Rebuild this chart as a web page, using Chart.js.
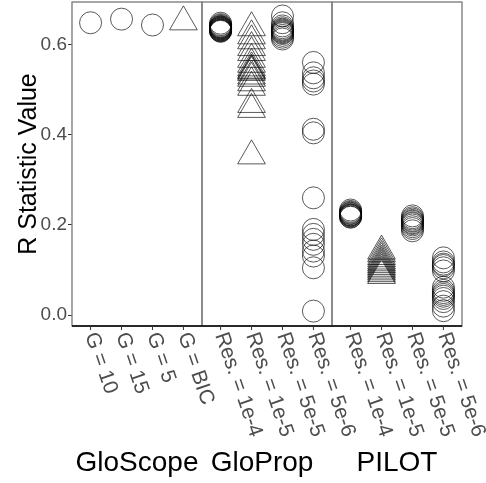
<!DOCTYPE html>
<html><head><meta charset="utf-8">
<script src="https://cdn.jsdelivr.net/npm/chart.js@4"></script>
<style>html,body{margin:0;padding:0;background:#fff}</style>
</head><body>
<canvas id="c" width="486" height="483"></canvas>
<script>
// Facet (method) names and the settings shown inside each facet
const methods = ["GloScope", "GloProp", "PILOT"];
const gloScopeSettings = ["G = 10", "G = 15", "G = 5", "G = BIC"];
const resolutionSettings = ["Res. = 1e-4", "Res. = 1e-5", "Res. = 5e-5", "Res. = 5e-6"];
const defaultSettings = ["G = BIC", "Res. = 1e-5"]; // drawn as triangles
const yTickValues = [0, 0.2, 0.4, 0.6];

// R statistic values per method / setting
const gloScopeG10 = [0.648];
const gloScopeG15 = [0.656];
const gloScopeG5 = [0.643];
const gloScopeBIC = [0.650];

const gloPropRes1e4 = [0.647, 0.644, 0.642, 0.640, 0.639, 0.638, 0.637, 0.636, 0.635, 0.634, 0.633, 0.632, 0.631, 0.630, 0.629];
const gloPropRes1e5 = [0.637, 0.619, 0.608, 0.593, 0.582, 0.567, 0.556, 0.548, 0.543, 0.541, 0.538, 0.530, 0.525, 0.515, 0.505, 0.467, 0.456, 0.353];
const gloPropRes5e5 = [0.663, 0.648, 0.641, 0.637, 0.634, 0.632, 0.630, 0.628, 0.626, 0.624, 0.620, 0.616, 0.612];
const gloPropRes5e6 = [0.560, 0.537, 0.526, 0.519, 0.512, 0.412, 0.404, 0.260, 0.190, 0.179, 0.168, 0.157, 0.142, 0.131, 0.105, 0.009];

const pilotRes1e4 = [0.233, 0.230, 0.228, 0.226, 0.225, 0.223, 0.222, 0.221, 0.220, 0.218, 0.217];
const pilotRes1e5 = [0.142, 0.136, 0.130, 0.125, 0.120, 0.116, 0.112, 0.108, 0.104, 0.100, 0.096, 0.092, 0.088];
const pilotRes5e5 = [0.220, 0.216, 0.213, 0.210, 0.208, 0.205, 0.203, 0.200, 0.196, 0.192, 0.187];
const pilotRes5e6 = [0.127, 0.118, 0.113, 0.110, 0.105, 0.098, 0.062, 0.055, 0.050, 0.046, 0.042, 0.037, 0.030, 0.020, 0.010];

const facetSettings = [gloScopeSettings, resolutionSettings, resolutionSettings];
const facetValues = [
  [gloScopeG10, gloScopeG15, gloScopeG5, gloScopeBIC],
  [gloPropRes1e4, gloPropRes1e5, gloPropRes5e5, gloPropRes5e6],
  [pilotRes1e4, pilotRes1e5, pilotRes5e5, pilotRes5e6]
];

// Each facet spans 4 discrete slots plus 0.6 slot of padding on both sides
const EXPAND = 0.6;
const PANEL = 3 + 2 * EXPAND;
const slotX = (p, i) => p * PANEL + EXPAND + i;

const FONT = '"Liberation Sans", Arial, Helvetica, sans-serif';
const INK = 'rgba(0,0,0,0.65)';

const datasets = [];
facetValues.forEach((group, p) => {
  group.forEach((vals, i) => {
    const tri = defaultSettings.includes(facetSettings[p][i]);
    datasets.push({
      label: methods[p] + ' ' + facetSettings[p][i],
      data: vals.map(v => ({ x: slotX(p, i), y: v })),
      pointStyle: tri ? 'triangle' : 'circle',
      pointRadius: tri ? 16 : 11,
      pointHoverRadius: tri ? 16 : 11,
      borderColor: INK,
      backgroundColor: 'rgba(0,0,0,0)',
      pointBorderWidth: 1,
      showLine: false
    });
  });
});

// small horizontal nudges for the method captions (in slots)
const captionShift = [0, -0.16, 0];

const facetPlugin = {
  id: 'facets',
  afterDatasetsDraw(chart) {
    const { ctx, chartArea: a, scales: { x } } = chart;
    ctx.save();
    // panel frames
    ctx.strokeStyle = '#808080';
    ctx.lineWidth = 1.4;
    for (let p = 0; p < methods.length; p++) {
      const l = x.getPixelForValue(p * PANEL), r = x.getPixelForValue((p + 1) * PANEL);
      ctx.strokeRect(l, a.top, r - l, a.bottom - a.top);
    }
    // x axis line
    ctx.strokeStyle = '#000';
    ctx.lineWidth = 1.5;
    ctx.beginPath();
    ctx.moveTo(a.left, a.bottom);
    ctx.lineTo(a.right, a.bottom);
    ctx.stroke();

    // x tick marks and rotated setting labels
    ctx.fillStyle = '#4d4d4d';
    ctx.strokeStyle = '#333';
    ctx.lineWidth = 1;
    ctx.font = '21px ' + FONT;
    ctx.textAlign = 'left';
    ctx.textBaseline = 'middle';
    facetSettings.forEach((labels, p) => {
      labels.forEach((lab, i) => {
        const px = x.getPixelForValue(slotX(p, i));
        ctx.beginPath();
        ctx.moveTo(px, a.bottom);
        ctx.lineTo(px, a.bottom + 4);
        ctx.stroke();
        ctx.save();
        ctx.translate(px, a.bottom + 7);
        ctx.rotate(71 * Math.PI / 180);
        ctx.fillText(lab, 0, 0);
        ctx.restore();
      });
    });

    // method captions under the setting labels
    ctx.fillStyle = '#000';
    ctx.font = '28px ' + FONT;
    ctx.textAlign = 'center';
    ctx.textBaseline = 'alphabetic';
    methods.forEach((m, p) => {
      const cx = x.getPixelForValue(p * PANEL + PANEL / 2 + captionShift[p]);
      ctx.fillText(m, cx, 471);
    });
    ctx.restore();
  }
};

new Chart(document.getElementById('c'), {
  type: 'scatter',
  data: { datasets },
  options: {
    responsive: false,
    animation: false,
    events: [],
    layout: { autoPadding: false, padding: { top: 2, right: 24, left: 0, bottom: 0 } },
    plugins: { legend: { display: false }, tooltip: { enabled: false } },
    scales: {
      x: {
        type: 'linear',
        min: 0,
        max: PANEL * methods.length,
        grid: { display: false },
        border: { display: false },
        ticks: { display: false },
        afterFit: s => { s.height = 157; s.paddingLeft = 0; s.paddingRight = 0; }
      },
      y: {
        type: 'linear',
        min: -0.024,
        max: 0.694,
        afterBuildTicks: s => { s.ticks = yTickValues.map(v => ({ value: v })); },
        afterFit: s => { s.width = 72; s.paddingTop = 0; s.paddingBottom = 0; },
        grid: { drawOnChartArea: false, drawTicks: true, tickLength: 4, color: '#333' },
        border: { display: false },
        ticks: {
          padding: 1,
          color: '#4d4d4d',
          font: { family: FONT, size: 19 },
          callback: v => Number(v).toFixed(1)
        },
        title: {
          display: true,
          text: 'R Statistic Value',
          color: '#000',
          font: { family: FONT, size: 25 },
          padding: { top: 14, bottom: 0 }
        }
      }
    }
  },
  plugins: [facetPlugin]
});
</script>
</body></html>
